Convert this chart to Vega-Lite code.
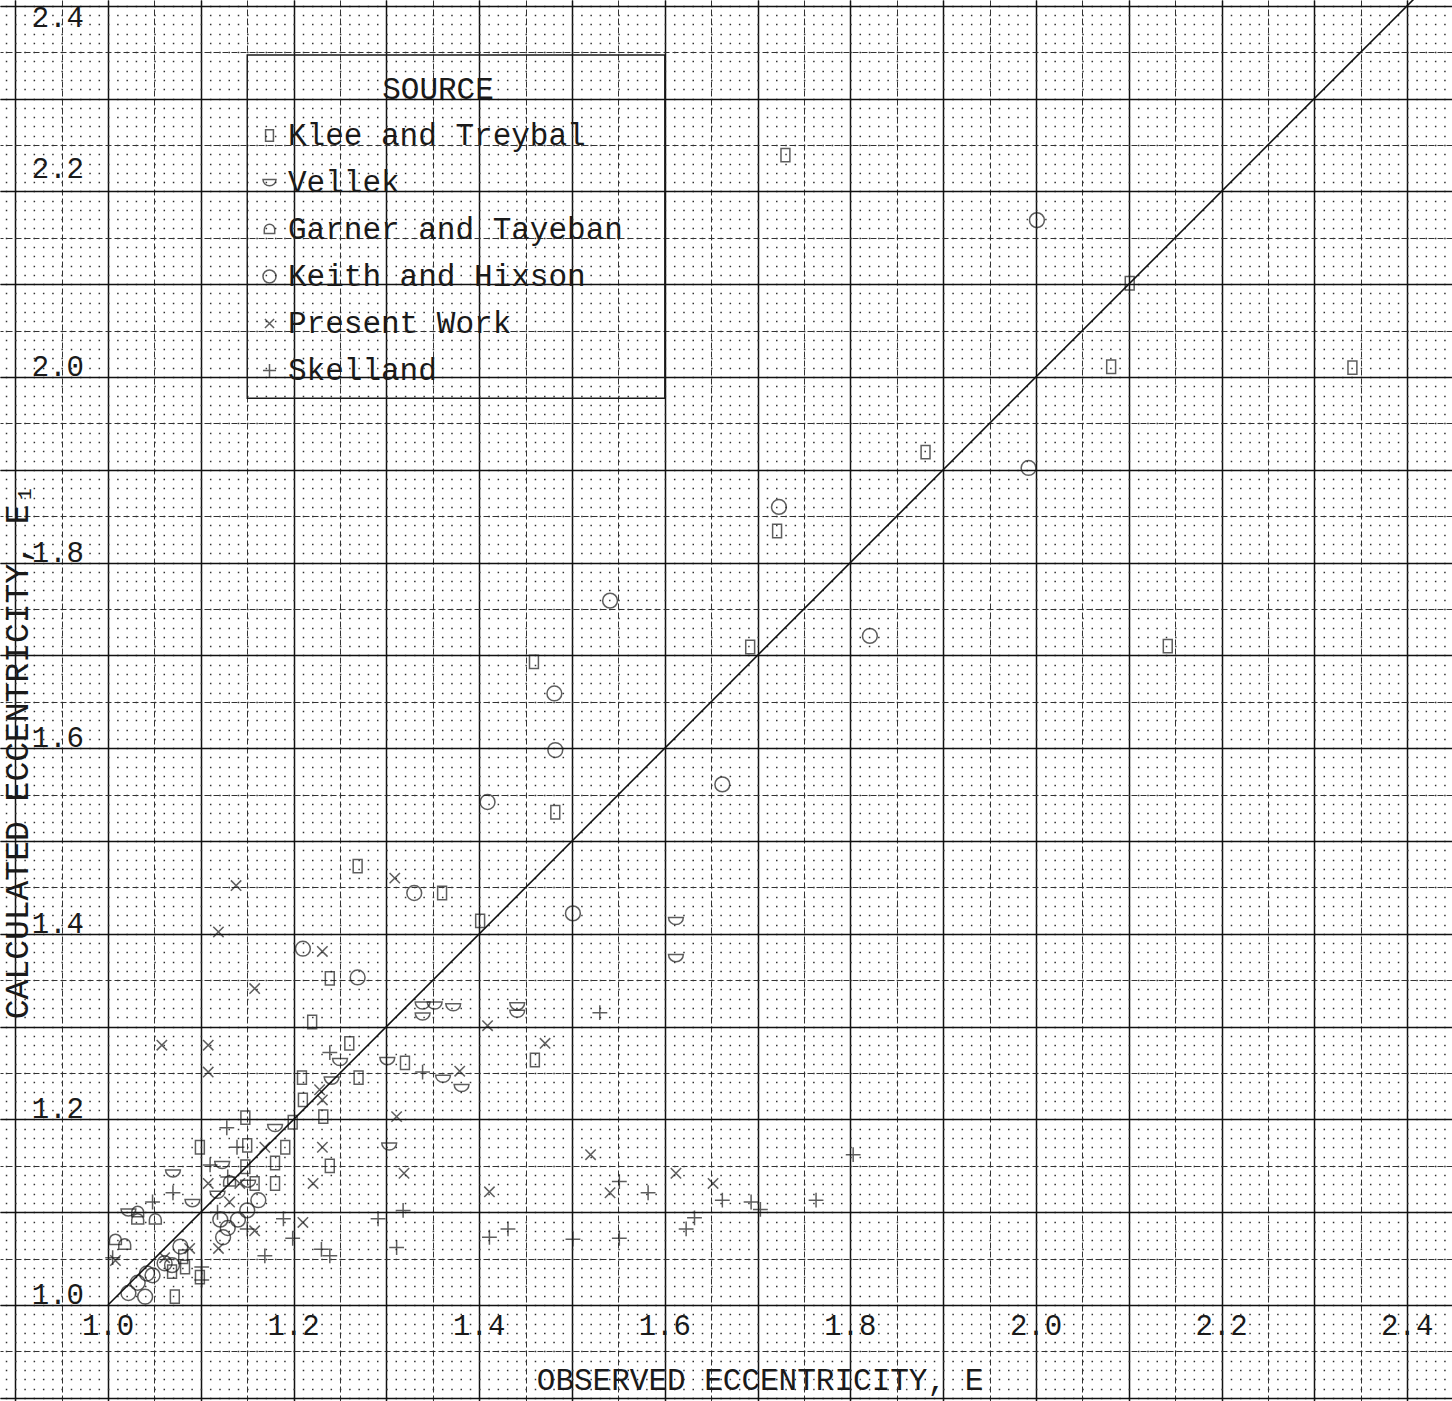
{
  "$schema": "https://vega.github.io/schema/vega-lite/v6.json",
  "width": 1452,
  "height": 1401,
  "autosize": "none",
  "padding": 0,
  "background": "white",
  "config": {"view": {"stroke": null}, "font": "Liberation Mono"},
  "datasets": {
    "pts": [
      {"x":1.730,"y":2.239,"src":"Klee and Treybal"},{"x":2.081,"y":2.011,"src":"Klee and Treybal"},{"x":2.341,"y":2.010,"src":"Klee and Treybal"},{"x":2.101,"y":2.101,"src":"Klee and Treybal"},{"x":1.881,"y":1.919,"src":"Klee and Treybal"},{"x":1.721,"y":1.834,"src":"Klee and Treybal"},{"x":1.692,"y":1.709,"src":"Klee and Treybal"},{"x":2.142,"y":1.710,"src":"Klee and Treybal"},{"x":1.459,"y":1.693,"src":"Klee and Treybal"},{"x":1.482,"y":1.531,"src":"Klee and Treybal"},{"x":1.269,"y":1.473,"src":"Klee and Treybal"},{"x":1.360,"y":1.444,"src":"Klee and Treybal"},{"x":1.401,"y":1.414,"src":"Klee and Treybal"},{"x":1.220,"y":1.305,"src":"Klee and Treybal"},{"x":1.260,"y":1.282,"src":"Klee and Treybal"},{"x":1.270,"y":1.245,"src":"Klee and Treybal"},{"x":1.209,"y":1.245,"src":"Klee and Treybal"},{"x":1.320,"y":1.261,"src":"Klee and Treybal"},{"x":1.460,"y":1.264,"src":"Klee and Treybal"},{"x":1.239,"y":1.352,"src":"Klee and Treybal"},{"x":1.232,"y":1.203,"src":"Klee and Treybal"},{"x":1.210,"y":1.221,"src":"Klee and Treybal"},{"x":1.148,"y":1.202,"src":"Klee and Treybal"},{"x":1.199,"y":1.197,"src":"Klee and Treybal"},{"x":1.191,"y":1.170,"src":"Klee and Treybal"},{"x":1.150,"y":1.172,"src":"Klee and Treybal"},{"x":1.180,"y":1.153,"src":"Klee and Treybal"},{"x":1.239,"y":1.150,"src":"Klee and Treybal"},{"x":1.180,"y":1.131,"src":"Klee and Treybal"},{"x":1.099,"y":1.170,"src":"Klee and Treybal"},{"x":1.081,"y":1.052,"src":"Klee and Treybal"},{"x":1.083,"y":1.041,"src":"Klee and Treybal"},{"x":1.072,"y":1.009,"src":"Klee and Treybal"},{"x":1.069,"y":1.036,"src":"Klee and Treybal"},{"x":1.099,"y":1.030,"src":"Klee and Treybal"},{"x":1.158,"y":1.131,"src":"Klee and Treybal"},{"x":1.148,"y":1.149,"src":"Klee and Treybal"},
      {"x":1.612,"y":1.414,"src":"Vellek"},{"x":1.612,"y":1.374,"src":"Vellek"},{"x":1.339,"y":1.323,"src":"Vellek"},{"x":1.352,"y":1.323,"src":"Vellek"},{"x":1.372,"y":1.321,"src":"Vellek"},{"x":1.339,"y":1.311,"src":"Vellek"},{"x":1.441,"y":1.322,"src":"Vellek"},{"x":1.441,"y":1.314,"src":"Vellek"},{"x":1.301,"y":1.263,"src":"Vellek"},{"x":1.361,"y":1.244,"src":"Vellek"},{"x":1.381,"y":1.234,"src":"Vellek"},{"x":1.241,"y":1.242,"src":"Vellek"},{"x":1.250,"y":1.262,"src":"Vellek"},{"x":1.303,"y":1.171,"src":"Vellek"},{"x":1.180,"y":1.191,"src":"Vellek"},{"x":1.123,"y":1.151,"src":"Vellek"},{"x":1.151,"y":1.131,"src":"Vellek"},{"x":1.118,"y":1.119,"src":"Vellek"},{"x":1.070,"y":1.142,"src":"Vellek"},{"x":1.091,"y":1.110,"src":"Vellek"},{"x":1.022,"y":1.100,"src":"Vellek"},
      {"x":1.032,"y":1.100,"src":"Garner and Tayeban"},{"x":1.032,"y":1.092,"src":"Garner and Tayeban"},{"x":1.051,"y":1.092,"src":"Garner and Tayeban"},{"x":1.008,"y":1.070,"src":"Garner and Tayeban"},{"x":1.018,"y":1.065,"src":"Garner and Tayeban"},{"x":1.131,"y":1.133,"src":"Garner and Tayeban"},
      {"x":2.001,"y":2.169,"src":"Keith and Hixson"},{"x":1.992,"y":1.902,"src":"Keith and Hixson"},{"x":1.723,"y":1.860,"src":"Keith and Hixson"},{"x":1.541,"y":1.759,"src":"Keith and Hixson"},{"x":1.821,"y":1.721,"src":"Keith and Hixson"},{"x":1.481,"y":1.659,"src":"Keith and Hixson"},{"x":1.482,"y":1.598,"src":"Keith and Hixson"},{"x":1.409,"y":1.542,"src":"Keith and Hixson"},{"x":1.662,"y":1.561,"src":"Keith and Hixson"},{"x":1.501,"y":1.422,"src":"Keith and Hixson"},{"x":1.330,"y":1.444,"src":"Keith and Hixson"},{"x":1.210,"y":1.384,"src":"Keith and Hixson"},{"x":1.269,"y":1.353,"src":"Keith and Hixson"},{"x":1.162,"y":1.113,"src":"Keith and Hixson"},{"x":1.129,"y":1.083,"src":"Keith and Hixson"},{"x":1.140,"y":1.092,"src":"Keith and Hixson"},{"x":1.121,"y":1.092,"src":"Keith and Hixson"},{"x":1.150,"y":1.102,"src":"Keith and Hixson"},{"x":1.124,"y":1.073,"src":"Keith and Hixson"},{"x":1.048,"y":1.032,"src":"Keith and Hixson"},{"x":1.032,"y":1.024,"src":"Keith and Hixson"},{"x":1.069,"y":1.043,"src":"Keith and Hixson"},{"x":1.022,"y":1.013,"src":"Keith and Hixson"},{"x":1.040,"y":1.009,"src":"Keith and Hixson"},{"x":1.078,"y":1.063,"src":"Keith and Hixson"},{"x":1.061,"y":1.045,"src":"Keith and Hixson"},{"x":1.042,"y":1.034,"src":"Keith and Hixson"},
      {"x":1.231,"y":1.381,"src":"Present Work"},{"x":1.309,"y":1.460,"src":"Present Work"},{"x":1.138,"y":1.452,"src":"Present Work"},{"x":1.119,"y":1.402,"src":"Present Work"},{"x":1.158,"y":1.341,"src":"Present Work"},{"x":1.058,"y":1.280,"src":"Present Work"},{"x":1.108,"y":1.280,"src":"Present Work"},{"x":1.108,"y":1.251,"src":"Present Work"},{"x":1.409,"y":1.301,"src":"Present Work"},{"x":1.471,"y":1.282,"src":"Present Work"},{"x":1.379,"y":1.252,"src":"Present Work"},{"x":1.311,"y":1.203,"src":"Present Work"},{"x":1.319,"y":1.142,"src":"Present Work"},{"x":1.520,"y":1.162,"src":"Present Work"},{"x":1.541,"y":1.121,"src":"Present Work"},{"x":1.612,"y":1.142,"src":"Present Work"},{"x":1.652,"y":1.131,"src":"Present Work"},{"x":1.411,"y":1.122,"src":"Present Work"},{"x":1.231,"y":1.170,"src":"Present Work"},{"x":1.221,"y":1.131,"src":"Present Work"},{"x":1.210,"y":1.089,"src":"Present Work"},{"x":1.169,"y":1.170,"src":"Present Work"},{"x":1.108,"y":1.131,"src":"Present Work"},{"x":1.131,"y":1.111,"src":"Present Work"},{"x":1.158,"y":1.080,"src":"Present Work"},{"x":1.119,"y":1.061,"src":"Present Work"},{"x":1.088,"y":1.061,"src":"Present Work"},{"x":1.228,"y":1.232,"src":"Present Work"},{"x":1.231,"y":1.221,"src":"Present Work"},{"x":1.142,"y":1.131,"src":"Present Work"},{"x":1.061,"y":1.051,"src":"Present Work"},{"x":1.008,"y":1.048,"src":"Present Work"},
      {"x":1.530,"y":1.315,"src":"Skelland"},{"x":1.803,"y":1.162,"src":"Skelland"},{"x":1.339,"y":1.251,"src":"Skelland"},{"x":1.239,"y":1.272,"src":"Skelland"},{"x":1.551,"y":1.133,"src":"Skelland"},{"x":1.582,"y":1.121,"src":"Skelland"},{"x":1.662,"y":1.113,"src":"Skelland"},{"x":1.693,"y":1.111,"src":"Skelland"},{"x":1.763,"y":1.113,"src":"Skelland"},{"x":1.632,"y":1.094,"src":"Skelland"},{"x":1.623,"y":1.082,"src":"Skelland"},{"x":1.501,"y":1.071,"src":"Skelland"},{"x":1.551,"y":1.072,"src":"Skelland"},{"x":1.411,"y":1.073,"src":"Skelland"},{"x":1.431,"y":1.082,"src":"Skelland"},{"x":1.311,"y":1.062,"src":"Skelland"},{"x":1.318,"y":1.102,"src":"Skelland"},{"x":1.291,"y":1.093,"src":"Skelland"},{"x":1.239,"y":1.053,"src":"Skelland"},{"x":1.230,"y":1.060,"src":"Skelland"},{"x":1.199,"y":1.072,"src":"Skelland"},{"x":1.189,"y":1.093,"src":"Skelland"},{"x":1.169,"y":1.053,"src":"Skelland"},{"x":1.128,"y":1.191,"src":"Skelland"},{"x":1.139,"y":1.170,"src":"Skelland"},{"x":1.110,"y":1.151,"src":"Skelland"},{"x":1.129,"y":1.138,"src":"Skelland"},{"x":1.118,"y":1.100,"src":"Skelland"},{"x":1.150,"y":1.082,"src":"Skelland"},{"x":1.070,"y":1.121,"src":"Skelland"},{"x":1.048,"y":1.111,"src":"Skelland"},{"x":1.005,"y":1.051,"src":"Skelland"},{"x":1.101,"y":1.041,"src":"Skelland"},{"x":1.101,"y":1.027,"src":"Skelland"},{"x":1.703,"y":1.103,"src":"Skelland"}
    ],
    "diag": [{"x":1.0,"y":1.0},{"x":2.42,"y":2.42}],
    "box": [{"x":1.15,"x2":1.60,"y":1.977,"y2":2.347}],
    "xlab": [
      {"x":1.0,"y":0.9676,"t":"1.0"},{"x":1.2,"y":0.9676,"t":"1.2"},{"x":1.4,"y":0.9676,"t":"1.4"},{"x":1.6,"y":0.9676,"t":"1.6"},{"x":1.8,"y":0.9676,"t":"1.8"},{"x":2.0,"y":0.9676,"t":"2.0"},{"x":2.2,"y":0.9676,"t":"2.2"},{"x":2.4,"y":0.9676,"t":"2.4"}
    ],
    "ylab": [
      {"x":0.946,"y":1.001,"t":"1.0"},{"x":0.946,"y":1.201,"t":"1.2"},{"x":0.946,"y":1.401,"t":"1.4"},{"x":0.946,"y":1.601,"t":"1.6"},{"x":0.946,"y":1.801,"t":"1.8"},{"x":0.946,"y":2.001,"t":"2.0"},{"x":0.946,"y":2.214,"t":"2.2"},{"x":0.946,"y":2.377,"t":"2.4"}
    ],
    "xtitle": [{"x":1.7026,"y":0.9084,"t":"OBSERVED ECCENTRICITY, E"}],
    "ytitle": [{"x":0.903,"y":1.596,"t":"CALCULATED ECCENTRICITY, E₁"}]
  },
  "resolve": {"axis": {"x": "independent", "y": "independent"}},
  "layer": [
    {
      "data": {"name": "pts"},
      "mark": {"type": "point", "filled": false, "color": "#1a1a1a", "strokeWidth": 1.5, "size": 220},
      "encoding": {
        "x": {"field": "x", "type": "quantitative", "scale": {"domain": [0.8836, 2.4483], "nice": false, "zero": false},
              "axis": {"grid": true, "tickCount": 31, "gridColor": "#333", "gridWidth": 1, "gridDash": [6, 3], "labels": false, "ticks": false, "domain": false, "title": null}},
        "y": {"field": "y", "type": "quantitative", "scale": {"domain": [0.8966, 2.4062], "nice": false, "zero": false},
              "axis": {"grid": true, "tickCount": 150, "gridColor": "#333", "gridWidth": 1.6, "gridDash": [1.5, 7.78], "gridDashOffset": 4.0, "labels": false, "ticks": false, "domain": false, "title": null}},
        "shape": {"field": "src", "type": "nominal",
          "scale": {"domain": ["Klee and Treybal", "Vellek", "Garner and Tayeban", "Keith and Hixson", "Present Work", "Skelland"],
                    "range": ["M-0.6,-0.9L0.6,-0.9L0.6,0.9L-0.6,0.9Z", "M-1,-0.45L1,-0.45A1,0.95 0 0 1 -1,-0.45Z", "M-0.8,0.6L-0.8,0A0.8,0.8 0 0 1 0.8,0L0.8,0.6Z", "circle", "M-0.7,-0.7L0.7,0.7M-0.7,0.7L0.7,-0.7", "M-1,0L1,0M0,-1L0,1"]},
          "legend": {"orient": "none", "legendX": 254, "legendY": 75, "padding": 0,
                     "title": "SOURCE", "titleFont": "Liberation Mono", "titleFontSize": 31, "titleFontWeight": "normal", "titleColor": "#1a1a1a", "titleAnchor": "middle", "titlePadding": 14,
                     "labelFont": "Liberation Mono", "labelFontSize": 31, "labelColor": "#1a1a1a", "labelOffset": 3, "labelLimit": 600, "rowPadding": 15,
                     "symbolSize": 170, "symbolStrokeWidth": 1.5, "symbolStrokeColor": "#1a1a1a", "symbolFillColor": "transparent"}}
      }
    },
    {
      "data": {"name": "diag"},
      "mark": {"type": "line", "color": "#111", "strokeWidth": 1.6},
      "encoding": {
        "x": {"field": "x", "type": "quantitative", "scale": {"domain": [0.8836, 2.4483], "nice": false, "zero": false},
              "axis": {"grid": true, "tickCount": 16, "gridColor": "#111", "gridWidth": 1.5, "labels": false, "ticks": false, "domain": false, "title": null}},
        "y": {"field": "y", "type": "quantitative", "scale": {"domain": [0.8966, 2.4062], "nice": false, "zero": false},
              "axis": {"grid": true, "tickCount": 30, "gridColor": "#333", "gridWidth": 1, "gridDash": [6, 3], "labels": false, "ticks": false, "domain": false, "title": null}}
      }
    },
    {
      "data": {"name": "box"},
      "mark": {"type": "rect", "fill": null, "fillOpacity": 0, "stroke": "#1a1a1a", "strokeWidth": 1.4},
      "encoding": {
        "x": {"field": "x", "type": "quantitative", "scale": {"domain": [0.8836, 2.4483], "nice": false, "zero": false}, "axis": null},
        "x2": {"field": "x2"},
        "y": {"field": "y", "type": "quantitative", "scale": {"domain": [0.8966, 2.4062], "nice": false, "zero": false}, "axis": null},
        "y2": {"field": "y2"}
      }
    },
    {
      "data": {"name": "xlab"},
      "mark": {"type": "text", "font": "Liberation Mono", "fontSize": 29, "color": "#1a1a1a", "align": "center", "baseline": "alphabetic"},
      "encoding": {
        "x": {"field": "x", "type": "quantitative", "scale": {"domain": [0.8836, 2.4483], "nice": false, "zero": false}, "axis": null},
        "y": {"field": "y", "type": "quantitative", "scale": {"domain": [0.8966, 2.4062], "nice": false, "zero": false},
              "axis": {"grid": true, "tickCount": 15, "gridColor": "#111", "gridWidth": 1.5, "labels": false, "ticks": false, "domain": false, "title": null}},
        "text": {"field": "t"}
      }
    },
    {
      "data": {"name": "ylab"},
      "mark": {"type": "text", "font": "Liberation Mono", "fontSize": 29, "color": "#1a1a1a", "align": "center", "baseline": "alphabetic"},
      "encoding": {
        "x": {"field": "x", "type": "quantitative", "scale": {"domain": [0.8836, 2.4483], "nice": false, "zero": false}, "axis": null},
        "y": {"field": "y", "type": "quantitative", "scale": {"domain": [0.8966, 2.4062], "nice": false, "zero": false}, "axis": null},
        "text": {"field": "t"}
      }
    },
    {
      "data": {"name": "xtitle"},
      "mark": {"type": "text", "font": "Liberation Mono", "fontSize": 31, "color": "#1a1a1a", "align": "center", "baseline": "alphabetic"},
      "encoding": {
        "x": {"field": "x", "type": "quantitative", "scale": {"domain": [0.8836, 2.4483], "nice": false, "zero": false}, "axis": null},
        "y": {"field": "y", "type": "quantitative", "scale": {"domain": [0.8966, 2.4062], "nice": false, "zero": false}, "axis": null},
        "text": {"field": "t"}
      }
    },
    {
      "data": {"name": "ytitle"},
      "mark": {"type": "text", "font": "Liberation Mono", "fontSize": 33, "color": "#1a1a1a", "align": "center", "baseline": "middle", "angle": 270},
      "encoding": {
        "x": {"field": "x", "type": "quantitative", "scale": {"domain": [0.8836, 2.4483], "nice": false, "zero": false}, "axis": null},
        "y": {"field": "y", "type": "quantitative", "scale": {"domain": [0.8966, 2.4062], "nice": false, "zero": false}, "axis": null},
        "text": {"field": "t"}
      }
    }
  ]
}
